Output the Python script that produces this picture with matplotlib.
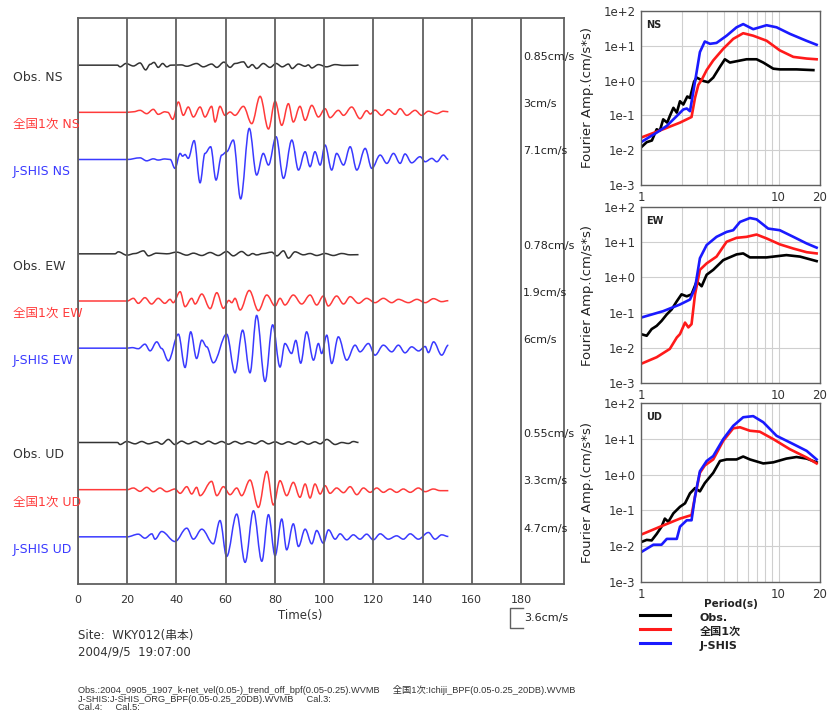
import matplotlib
matplotlib.use('Agg')
import matplotlib.pyplot as plt
from matplotlib.lines import Line2D
from matplotlib.path import Path
from matplotlib.patches import PathPatch
from matplotlib.ticker import FixedLocator, NullFormatter
import numpy as np

plt.rcParams['font.family'] = ['DejaVu Sans', 'Noto Sans CJK JP']
INK, GRIDC, FRAME = '#222222', '#cfcfcf', '#606060'
OBS_C, ZEN_C, JS_C = '#333333', '#ff3a3a', '#3a3aff'

# ---- velocity waveforms: peaks/troughs (time s, velocity cm/s) ----
ns_obs_t = [0, 16, 17.1, 19.5, 22.5, 25.2, 27.5, 29.3, 30.9, 32.6, 34.4, 36.1, 37.7, 42, 44.2, 48.2, 50.9, 54.3, 56.4,
            59.3, 61.8, 63.8, 67.2, 69.2, 70.8, 72.6, 75.3, 78, 80.5, 83, 85.5, 87, 89.6, 92.3, 93.6, 95, 97.7, 101,
            104.5, 108, 114]
ns_obs_v = [0, 0, -0.3, 0.3, -0.15, 0.4, -0.85, 0.15, 0.5, -0.4, 0.3, -0.3, 0, 0.05, -0.2, 0.3, -0.3, 0.2, -0.4,
            0.55, -0.4, 0.3, 0.6, -0.4, 0.1, -0.6, 0.3, -0.4, 0.3, -0.3, 0.2, -0.6, 0.2, -0.2, 0.05, -0.5, 0.1, -0.3,
            0.1, -0.05, 0]
ns_zen_t = [0, 20, 22.5, 25.2, 27.9, 30.6, 32.6, 35.3, 36.5, 38.5, 40.8, 42.8, 44.8, 46.9, 49.6, 51.6, 54.3, 55.7,
            57.7, 59.7, 61.8, 63.8, 67.2, 70.6, 74, 77.4, 80.1, 82.8, 85.5, 87.5, 90.2, 92.3, 95, 97.7, 100.4, 102.4,
            105.8, 107.9, 111.2, 114.6, 117.3, 118.8, 120.7, 123.4, 126.1, 128.9, 130.9, 133.6, 137, 139.7, 142.4,
            145.8, 148.5, 150.5]
ns_zen_v = [0, 0, 0.1, 0.36, -0.24, 0.54, -0.36, 0.1, 0, -1.26, 1.86, -0.54, 0.96, -0.84, 0.96, -0.84, 1.08, -1.74,
            1.08, -0.54, 0.06, -0.54, 1.08, -2.04, 2.88, -3.0, 2.0, -2.34, 1.56, -1.74, 1.08, -1.44, 1.26, -0.84,
            0.66, -0.96, 0.36, -0.54, 0.96, -1.14, 0.3, -0.3, 0.4, -0.54, 0.48, -0.36, 0.66, -0.54, 0.36, -0.54,
            0.2, -0.24, 0.2, 0.1]
ns_js_t = [0, 20, 25.2, 27.9, 30.6, 32.6, 35.3, 37.5, 39.4, 41.5, 42.5, 43.5, 44.8, 47.2, 49.6, 51.6, 53.9, 56.1,
           58.4, 60.4, 63.1, 66.1, 69.6, 72.6, 75.3, 77.4, 80.5, 83.5, 86.9, 89.6, 92.3, 94.3, 96.3, 98.4, 100.4,
           103.1, 105.1, 107.9, 110.6, 113.3, 116.7, 119.4, 122.8, 125.5, 128.2, 130.9, 132.9, 135.6, 139, 141.1,
           143.8, 145.8, 148.5, 150.5]
ns_js_v = [0, 0, 0.3, -0.24, 0.12, -0.1, 0.1, 0, -1.6, 1.1, 0.6, 0.9, 0.2, 3.4, -4.2, 1.1, 2.3, -3.7,
           0.8, 1.4, 3.5, -7.1, 5.6, -2.8, 1.1, -1.0, 4.1, -3.4, 3.5, -1.9, 1.4, -1.3, 1.4, -1.0, 2.6,
           -1.9, 1.1, -1.0, 2.3, -1.9, 2.0, -1.6, 0.8, -0.7, 1.1, -0.7, 1.0, -0.6, 0.5, -0.4,
           0.2, -0.4, 0.8, 0]

ew_obs_t = [0, 15, 16.4, 19.8, 23.2, 26.6, 28.6, 31.9, 36.1, 40.1, 44.2, 46.9, 50.3, 53.7, 57, 60.4, 63.1, 66.5,
            69.2, 71, 72.6, 75.3, 78.7, 80.8, 83.5, 85.5, 88.2, 91.6, 94.3, 97, 100.4, 103.8, 107.2, 110.6, 114]
ew_obs_v = [0, 0, 0.36, -0.24, 0.06, 0.54, -0.36, 0.12, 0, 0.3, -0.24, 0.12, -0.3, 0.24, -0.3, 0.42, -0.36, 0.42,
            -0.3, 0.05, -0.2, 0.06, 0.3, -0.36, 0.54, -0.78, 0.36, -0.18, 0.06, -0.3, 0.06, -0.3, 0.06, -0.18, -0.15]
ew_zen_t = [0, 20, 22.5, 24.5, 27.2, 29.9, 32.6, 35.3, 37.4, 38.7, 41.5, 43.5, 46.2, 47.6, 50.3, 53.7, 56.4, 59.1,
            61.3, 62.5, 63.8, 65.9, 69.6, 73.3, 76.7, 80.1, 82.1, 84.1, 87.5, 90.9, 94.3, 97, 99.7, 101.7, 105.1,
            107.9, 110.6, 114, 117.3, 120.7, 124.1, 127.5, 130.2, 134.3, 137.7, 141.1, 144.5, 147.8, 150.5]
ew_zen_v = [0, 0, 0.48, -0.42, 0.6, -0.54, 0.48, -0.42, 0.3, -0.3, 1.68, -1.02, 0.48, -0.54, 1.26, -1.38, 1.5, -1.32,
            0.1, -0.3, 0.48, -1.62, 1.9, -1.74, 1.08, -0.9, 0.48, -0.72, 1.08, -0.54, 1.08, -0.72, 0.9, -0.9, 0.9,
            -0.54, 0.78, -0.42, 0.48, -0.3, 0.48, -0.3, 0.3, -0.3, 0.3, -0.3, 0.42, -0.12, 0.06]
ew_js_t = [0, 20, 22, 24.5, 27.2, 29.3, 32, 34, 36.7, 40.8, 43.5, 45.8, 48.2, 50.3, 52.3, 55, 60.4, 63.8, 66.9,
           69.9, 72.6, 76, 79.1, 82.1, 84.1, 86.8, 88.5, 90.5, 92.9, 95.7, 97.7, 99, 101.1, 103.1, 105.8, 109.2,
           112.6, 114.6, 118, 120.7, 124.1, 127.5, 130.2, 132.9, 135.6, 138.4, 141.1, 142.4, 144.5, 147.8, 150.5]
ew_js_v = [0, 0, 0.1, -0.1, 0.72, -0.48, 1.14, -0.06, -2.28, 2.52, -3.48, 2.94, -1.86, 1.44, 0.24, -2.64, 2.52,
           -4.44, 3.24, -4.44, 5.9, -6.0, 4.2, -3.4, 0.84, -0.96, 1.4, -2.7, 2.94, -2.16, 0.84, -0.96, 2.34, -2.76,
           2.04, -2.16, 0.54, -0.66, 0.84, -1.26, 0.54, -0.66, 0.54, -0.84, 0.24, -0.5, 0.3, -0.8, 1.14, -1.26, 0.54]

ud_obs_t = [0, 16, 17.1, 19.8, 23.2, 25.9, 28.6, 32, 34, 36.7, 39.4, 42.1, 44.8, 47.6, 50.3, 53, 55.7, 58.4, 61.1,
            63.8, 66.5, 69.2, 72, 74.7, 77.4, 80.1, 82.8, 85.5, 88.2, 90.9, 93.6, 96.3, 98.4, 101.1, 104.5, 107.2,
            109.9, 111.9, 114]
ud_obs_v = [0, 0, -0.36, 0.18, -0.24, 0.18, -0.24, 0.12, -0.3, 0.55, -0.36, 0.24, -0.24, 0.18, -0.3, 0.24, -0.24,
            0.18, -0.3, 0.18, -0.24, 0.12, -0.24, 0.3, -0.24, 0.12, -0.3, 0.12, -0.3, 0.18, -0.3, 0.12, -0.24, 0.55,
            -0.36, 0, -0.18, 0.18, 0]
ud_zen_t = [0, 20, 22.5, 25.2, 27.9, 30.6, 33.3, 36, 39.4, 41.5, 44.2, 46.2, 48.2, 49.6, 54.3, 56.4, 59.1, 61.8,
            64.5, 66.5, 69.9, 73.3, 76.7, 79.4, 82.1, 84.8, 87.5, 90.2, 92.3, 94.3, 96.3, 98.4, 100.4, 102.4, 105.1,
            107.9, 110.6, 113.3, 116, 118.7, 121.4, 124.1, 126.8, 129.5, 132.2, 135, 138.3, 141.1, 144.4, 147.2, 150.5]
ud_zen_v = [0, 0, 0.3, -0.3, 0.42, -0.36, 0.3, -0.36, 0.12, -0.66, 0.54, -0.78, 0.42, -1.08, 1.5, -1.08, 0.54, -0.9,
            0.3, -1.08, 1.74, -3.2, 3.3, -2.76, 1.62, -1.08, 1.32, -1.38, 1.02, -1.5, 1.02, -0.78, 0.72, -0.66, 0.3,
            -0.54, 0.54, -0.9, 0.3, -0.48, 0.3, -0.48, 0.12, -0.48, 0.12, -0.48, 0.3, -0.36, 0.12, -0.18, -0.18]
ud_js_t = [0, 20, 24.5, 27.2, 30, 31.3, 34, 39.4, 44.2, 46.9, 50.3, 55, 57.7, 60.4, 64.5, 67.9, 71.3, 74.7, 77.4,
           80.1, 82.8, 84.8, 87.5, 89.6, 92.3, 95, 97, 99.7, 101.8, 104.5, 106.5, 109.2, 111.9, 114.6, 117.3, 120,
           122.8, 126.1, 129.5, 132.2, 135, 138.3, 142.4, 145.1, 147.8, 150.5]
ud_js_v = [0, 0, 0.48, -0.24, 0.54, -0.42, 0.96, -0.84, 1.56, -0.42, 1.38, -1.26, 2.94, -3.54, 4.1, -4.6, 4.7, -4.4,
           4.0, -3.4, 3.2, -2.34, 2.34, -1.74, 1.38, -1.26, 1.14, -1.14, 1.26, -0.42, 0.54, -0.54, 0.36, -0.42, 0.48,
           -0.54, 0.54, -0.42, 0.18, -0.42, 0.54, -0.42, 0.78, -0.42, 0.36, 0.06]

trace_labels = ['Obs. NS', '全国1次 NS', 'J-SHIS NS', 'Obs. EW', '全国1次 EW', 'J-SHIS EW',
                'Obs. UD', '全国1次 UD', 'J-SHIS UD']
trace_t = [ns_obs_t, ns_zen_t, ns_js_t, ew_obs_t, ew_zen_t, ew_js_t, ud_obs_t, ud_zen_t, ud_js_t]
trace_v = [ns_obs_v, ns_zen_v, ns_js_v, ew_obs_v, ew_zen_v, ew_js_v, ud_obs_v, ud_zen_v, ud_js_v]
scale_bar = 3.6  # cm/s

# ---- Fourier spectra (period s, amplitude cm/s*s) ----
ns_obs_T = [1.0, 1.1, 1.2, 1.3, 1.37, 1.45, 1.55, 1.62, 1.72, 1.82, 1.92, 2.03, 2.17, 2.27, 2.43, 2.54, 2.83, 3.08,
            3.35, 3.75, 4.07, 4.43, 4.95, 5.85, 6.92, 7.74, 9.15, 10.2, 13.5, 17.9]
ns_obs_A = [0.012, 0.017, 0.019, 0.040, 0.036, 0.077, 0.062, 0.096, 0.165, 0.12, 0.255, 0.205, 0.35, 0.316, 0.93,
            1.22, 0.98, 0.90, 1.22, 2.5, 4.1, 3.3, 3.6, 4.1, 4.1, 3.3, 2.2, 2.1, 2.1, 2.0]
ns_zen_T = [1.0, 1.45, 1.92, 2.15, 2.33, 2.47, 2.61, 2.76, 3.0, 3.35, 3.96, 4.68, 5.53, 6.54, 8.18, 10.2, 12.8,
            16.0, 18.9]
ns_zen_A = [0.023, 0.040, 0.062, 0.077, 0.09, 0.32, 0.75, 1.05, 2.0, 3.8, 8.2, 15.8, 23, 19.5, 14, 7.4, 4.8, 4.3, 4.1]
ns_js_T = [1.0, 1.3, 1.54, 1.82, 2.03, 2.15, 2.27, 2.47, 2.68, 2.91, 3.17, 3.54, 4.19, 4.95, 5.53, 6.54, 8.18,
           9.67, 12.1, 15.9, 18.9]
ns_js_A = [0.017, 0.032, 0.05, 0.096, 0.148, 0.158, 0.132, 0.93, 6.6, 13.3, 11.4, 12.1, 19.5, 34, 42, 30, 39, 34,
           22, 14, 10.7]

ew_obs_T = [1.0, 1.1, 1.195, 1.3, 1.41, 1.54, 1.67, 1.82, 1.97, 2.15, 2.33, 2.54, 2.76, 3.0, 3.35, 3.96, 4.95,
            5.53, 6.19, 8.18, 11.4, 14.3, 18.9]
ew_obs_A = [0.0245, 0.022, 0.034, 0.042, 0.058, 0.089, 0.123, 0.21, 0.33, 0.29, 0.33, 0.77, 0.56, 1.19, 1.64, 3.1,
            4.5, 4.8, 3.7, 3.7, 4.3, 3.9, 2.9]
ew_zen_T = [1.0, 1.30, 1.62, 1.82, 1.92, 2.09, 2.21, 2.33, 2.47, 2.68, 3.0, 3.54, 4.19, 4.95, 5.85, 6.92, 8.18,
            10.2, 12.8, 16.0, 18.9]
ew_zen_A = [0.0035, 0.0054, 0.0093, 0.0196, 0.0245, 0.052, 0.038, 0.047, 0.33, 1.64, 2.5, 3.9, 10.3, 13.3, 14.2,
            16.5, 12.8, 8.7, 6.6, 5.2, 4.8]
ew_js_T = [1.0, 1.45, 1.92, 2.27, 2.47, 2.68, 3.0, 3.54, 4.19, 4.68, 5.24, 6.19, 6.92, 8.4, 10.2, 12.8, 16.0, 18.9]
ew_js_A = [0.072, 0.11, 0.17, 0.235, 0.50, 3.5, 8.3, 14.2, 19.6, 21.9, 37.6, 48.6, 44.6, 24.4, 21.9, 14.2, 9.2, 7.0]

ud_obs_T = [1.0, 1.10, 1.195, 1.30, 1.41, 1.49, 1.58, 1.72, 1.92, 2.09, 2.27, 2.47, 2.68, 2.91, 3.35, 3.75, 4.19,
            4.95, 5.53, 6.19, 7.74, 9.15, 11.4, 13.5, 16.0, 18.9]
ud_obs_A = [0.013, 0.015, 0.0145, 0.022, 0.035, 0.059, 0.048, 0.083, 0.126, 0.158, 0.30, 0.42, 0.34, 0.58, 1.12,
            2.4, 2.65, 2.65, 3.2, 2.65, 2.05, 2.2, 2.8, 3.1, 2.8, 2.2]
ud_zen_T = [1.0, 1.45, 1.92, 2.33, 2.47, 2.68, 2.91, 3.35, 3.96, 4.68, 5.24, 6.19, 7.30, 9.15, 12.1, 16.0, 18.9]
ud_zen_A = [0.021, 0.038, 0.059, 0.074, 0.245, 1.12, 1.8, 2.65, 8.8, 19.6, 21, 16.8, 15.8, 9.8, 5.1, 3.0, 2.05]
ud_js_T = [1.0, 1.23, 1.41, 1.54, 1.82, 1.92, 2.15, 2.33, 2.47, 2.68, 3.0, 3.35, 3.96, 4.68, 5.53, 6.54, 7.74,
           9.67, 12.8, 16.0, 18.9]
ud_js_A = [0.0068, 0.011, 0.011, 0.016, 0.016, 0.035, 0.053, 0.053, 0.245, 1.24, 2.4, 3.3, 9.8, 23, 40, 43, 29,
           12.1, 7.1, 4.6, 2.65]

components = ['NS', 'EW', 'UD']
spectra = [
    [(ns_obs_T, ns_obs_A), (ns_zen_T, ns_zen_A), (ns_js_T, ns_js_A)],
    [(ew_obs_T, ew_obs_A), (ew_zen_T, ew_zen_A), (ew_js_T, ew_js_A)],
    [(ud_obs_T, ud_obs_A), (ud_zen_T, ud_zen_A), (ud_js_T, ud_js_A)],
]
legend_labels = ['Obs.', '全国1次', 'J-SHIS']
spec_colors = ['black', '#ff1a1a', '#1a1aff']

W, H = 828, 717
fx = lambda x: x / W
fy = lambda y: 1 - y / H


def wave_path(t, v, base):
    """smooth wiggle through the peaks/troughs: cubic segments with flat tangents at each extremum"""
    verts, codes = [(t[0], base + v[0])], [Path.MOVETO]
    for t0, v0, t1, v1 in zip(t[:-1], v[:-1], t[1:], v[1:]):
        k = 0.36 * (t1 - t0)
        verts += [(t0 + k, base + v0), (t1 - k, base + v1), (t1, base + v1)]
        codes += [Path.CURVE4] * 3
    return Path(verts, codes)


fig = plt.figure(figsize=(W / 100, H / 100), dpi=100)

# ---- waveform panel ----
ax = fig.add_axes([fx(78), fy(584), fx(564) - fx(78), fy(18) - fy(584)])
SLOT = 8.5
slots = [11, 10, 9, 7, 6, 5, 3, 2, 1]
colors = [OBS_C, ZEN_C, JS_C] * 3
ax.set_xlim(0, 197.5)
ax.set_ylim(0, 12 * SLOT)
ax.set_xticks(range(0, 181, 20))
ax.set_yticks([])
ax.grid(axis='x', color=FRAME, lw=1.3)
ax.tick_params(length=0, labelsize=8, colors='#333333', pad=8)
for s in ax.spines.values():
    s.set_color(FRAME)
    s.set_linewidth(1.3)

for lab, t, v, slot, c in zip(trace_labels, trace_t, trace_v, slots, colors):
    base = slot * SLOT
    ax.add_patch(PathPatch(wave_path(t, v, base), fill=False, edgecolor=c, lw=1.1))
    ax.text(-26.4, base - 2.2, lab, color=c, fontsize=9, ha='left', va='center', clip_on=False)
    peak = max(abs(x) for x in v)
    ax.text(180.9, base + 1.5, f'{peak:g}cm/s', color=INK, fontsize=8, ha='left', va='center', clip_on=False)

# scale bar under the time axis
ax.plot([180.9, 175.6, 175.6, 180.9], [-4.3, -4.3, -4.3 - scale_bar, -4.3 - scale_bar],
        color=FRAME, lw=1.0, clip_on=False)
ax.text(181.5, -4.3 - scale_bar / 2, f'{scale_bar:g}cm/s', fontsize=8, color=INK, va='center', clip_on=False)

fig.text(fx(300), fy(615), 'Time(s)', ha='center', va='center', fontsize=8.5, color='#333333')
fig.text(fx(78), fy(635), 'Site:  WKY012(串本)', fontsize=8.5, color='#333333', va='center')
fig.text(fx(78), fy(652), '2004/9/5  19:07:00', fontsize=8.5, color='#333333', va='center')
foot = dict(fontsize=6.7, color='#333333', va='center', family=['Liberation Sans', 'Noto Sans CJK JP'])
fig.text(fx(78), fy(690), 'Obs.:2004_0905_1907_k-net_vel(0.05-)_trend_off_bpf(0.05-0.25).WVMB'
         '     全国1次:Ichiji_BPF(0.05-0.25_20DB).WVMB', **foot)
fig.text(fx(78), fy(699), 'J-SHIS:J-SHIS_ORG_BPF(0.05-0.25_20DB).WVMB     Cal.3:', **foot)
fig.text(fx(78), fy(708), 'Cal.4:     Cal.5:', **foot)

# ---- Fourier spectra panels ----
boxes = [(11, 185), (207, 383), (403, 582)]
for comp, (top, bot), curves in zip(components, boxes, spectra):
    sx = fig.add_axes([fx(641), fy(bot), fx(820) - fx(641), fy(top) - fy(bot)])
    for (T, A), c in zip(curves, spec_colors):
        sx.plot(T, A, color=c, lw=1.9)
    sx.set_xscale('log')
    sx.set_yscale('log')
    sx.set_xlim(1, 20)
    sx.set_ylim(1e-3, 1e2)
    sx.xaxis.set_major_locator(FixedLocator([1, 10, 20]))
    sx.xaxis.set_major_formatter(plt.FixedFormatter(['1', '10', '20']))
    sx.xaxis.set_minor_locator(FixedLocator([2, 3, 4, 5, 6, 7, 8, 9]))
    sx.xaxis.set_minor_formatter(NullFormatter())
    sx.yaxis.set_major_locator(FixedLocator([1e-3, 1e-2, 1e-1, 1, 1e1, 1e2]))
    sx.yaxis.set_major_formatter(plt.FixedFormatter(['1e-3', '1e-2', '1e-1', '1e+0', '1e+1', '1e+2']))
    sx.yaxis.set_minor_locator(FixedLocator([]))
    sx.grid(which='major', color=GRIDC, lw=0.8)
    sx.grid(which='minor', axis='x', color=GRIDC, lw=0.8)
    sx.set_axisbelow(True)
    sx.tick_params(which='both', length=0, labelsize=8.5, colors='#333333', pad=4)
    for s in sx.spines.values():
        s.set_color(FRAME)
        s.set_linewidth(1.0)
    sx.set_ylabel('Fourier Amp.(cm/s*s)', fontsize=9.5, color=INK)
    sx.yaxis.set_label_coords(-0.263, 0.5)
    sx.text(0.03, 0.95, comp, transform=sx.transAxes, fontsize=7, fontweight='bold', va='top', color=INK)

# legend below the UD spectrum
fig.text(fx(731), fy(604), 'Period(s)', ha='center', va='center', fontsize=7.5, fontweight='bold', color=INK)
for lab, c, ly in zip(legend_labels, spec_colors, [615, 629, 643]):
    fig.add_artist(Line2D([fx(640), fx(670)], [fy(ly), fy(ly)], color=c, lw=2.2))
    fig.text(fx(700), fy(ly + 3), lab, fontsize=8, fontweight='bold', color=INK, va='center')

fig.savefig('out.png', dpi=100)
